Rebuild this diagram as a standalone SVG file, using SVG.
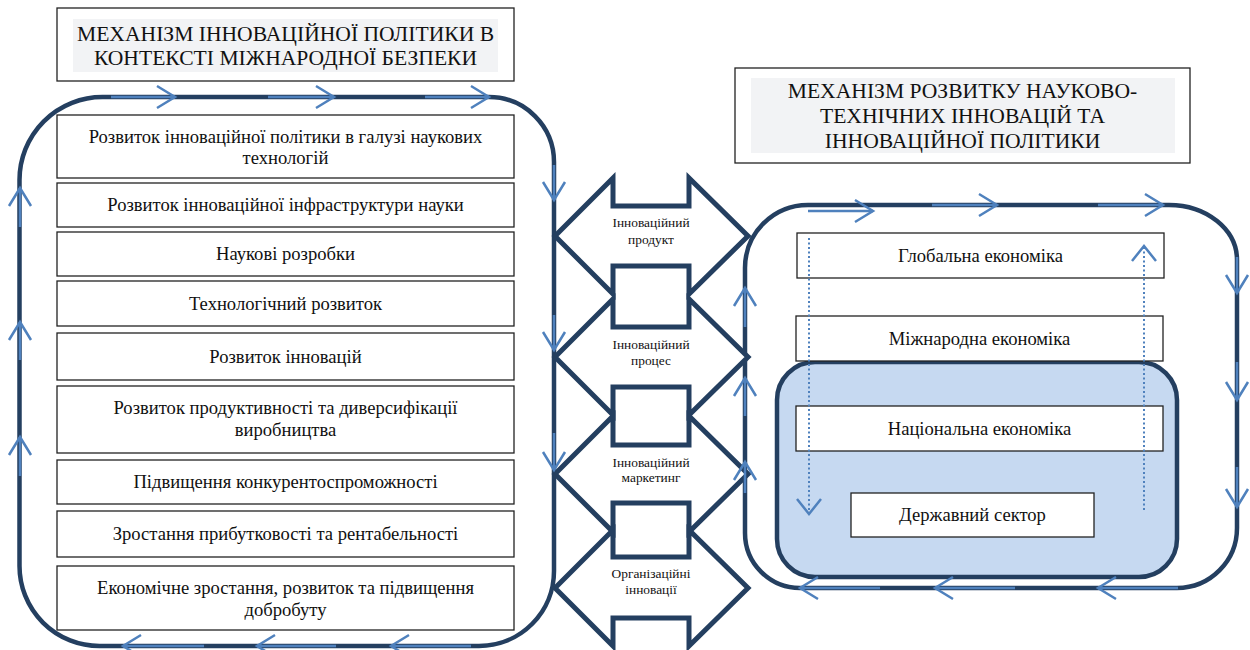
<svg xmlns="http://www.w3.org/2000/svg" width="1250" height="650" viewBox="0 0 1250 650">
<style>
text{font-family:"Liberation Serif","Times New Roman",serif;fill:#111;text-anchor:middle}
.t{font-size:21.6px}
.b{font-size:18.6px}
.s{font-size:13.4px}
.box{fill:#fff;stroke:#222;stroke-width:1.3}
.tbg{fill:#F2F3F5}
.frame{fill:none;stroke:#243F60;stroke-width:4.5}
.inner{fill:#C6D9F1;stroke:#243F60;stroke-width:4.5}
.dbl{fill:#fff;stroke:#243F60;stroke-width:5;stroke-linejoin:miter}
.la{stroke:#4F81BD;stroke-width:2.5;fill:none;marker-end:url(#ah)}
.dot{stroke:#4F81BD;stroke-width:2;fill:none;stroke-dasharray:2 2.5;marker-end:url(#ah2)}
</style>
<defs>
<marker id="ah" markerUnits="userSpaceOnUse" markerWidth="24" markerHeight="24" refX="19" refY="11" orient="auto" overflow="visible">
<path d="M1 0 L19 11 L1 22" fill="none" stroke="#4F81BD" stroke-width="2.5"/>
</marker>
<marker id="ah2" markerUnits="userSpaceOnUse" markerWidth="24" markerHeight="28" refX="16" refY="12" orient="auto" overflow="visible">
<path d="M1 0 L16 12 L1 24" fill="none" stroke="#4F81BD" stroke-width="2.5"/>
</marker>
</defs>

<g id="title-left">
<rect x="57" y="8" width="457" height="73" fill="#fff" stroke="#222" stroke-width="1.3"/>
<rect class="tbg" x="73" y="19" width="425" height="53"/>
<text class="t" x="285.5" y="40.5">МЕХАНІЗМ ІННОВАЦІЙНОЇ ПОЛІТИКИ В</text>
<text class="t" x="285.5" y="65">КОНТЕКСТІ МІЖНАРОДНОЇ БЕЗПЕКИ</text>
</g>

<g id="title-right">
<rect x="735" y="68" width="455" height="95" fill="#fff" stroke="#222" stroke-width="1.3"/>
<rect class="tbg" x="751" y="78" width="424" height="75"/>
<text class="t" x="962.5" y="97.5">МЕХАНІЗМ РОЗВИТКУ НАУКОВО-</text>
<text class="t" x="962.5" y="122.5">ТЕХНІЧНИХ ІННОВАЦІЙ ТА</text>
<text class="t" x="962.5" y="147.5">ІННОВАЦІЙНОЇ ПОЛІТИКИ</text>
</g>

<g id="frame-left">
<path class="frame" d="M102.5 97 H489 A65 65 0 0 1 554 162 V571 A75 75 0 0 1 479 646 H99.5 A80 80 0 0 1 19.5 566 V180 A83 83 0 0 1 102.5 97 Z"/>
</g>

<g id="frame-right">
<path class="frame" d="M808 205 H1169 A68 55 0 0 1 1237 260 V528 A60 60 0 0 1 1177 588 H800 A55 55 0 0 1 745 533 V268 A63 63 0 0 1 808 205 Z"/>
</g>

<g id="inner-area">
<rect class="inner" x="777" y="362" width="400" height="215" rx="38" ry="38"/>
</g>

<g id="n1"><rect class="box" x="57" y="115" width="457" height="63"/>
<text class="b" x="285.5" y="143">Розвиток інноваційної політики в галузі наукових</text>
<text class="b" x="285.5" y="164">технологій</text></g>
<g id="n2"><rect class="box" x="57" y="183" width="457" height="44"/>
<text class="b" x="285.5" y="211">Розвиток інноваційної інфраструктури науки</text></g>
<g id="n3"><rect class="box" x="57" y="232" width="457" height="44"/>
<text class="b" x="285.5" y="260">Наукові розробки</text></g>
<g id="n4"><rect class="box" x="57" y="281" width="457" height="45"/>
<text class="b" x="285.5" y="309.5">Технологічний розвиток</text></g>
<g id="n5"><rect class="box" x="57" y="333" width="457" height="47"/>
<text class="b" x="285.5" y="362.5">Розвиток інновацій</text></g>
<g id="n6"><rect class="box" x="57" y="386" width="457" height="67"/>
<text class="b" x="285.5" y="414">Розвиток продуктивності та диверсифікації</text>
<text class="b" x="285.5" y="436">виробництва</text></g>
<g id="n7"><rect class="box" x="57" y="460" width="457" height="44"/>
<text class="b" x="285.5" y="488">Підвищення конкурентоспроможності</text></g>
<g id="n8"><rect class="box" x="57" y="511" width="457" height="46"/>
<text class="b" x="285.5" y="540">Зростання прибутковості та рентабельності</text></g>
<g id="n9"><rect class="box" x="57" y="566" width="457" height="64"/>
<text class="b" x="285.5" y="594">Економічне зростання, розвиток та підвищення</text>
<text class="b" x="285.5" y="615.5">добробуту</text></g>

<g id="r1"><rect class="box" x="797" y="233" width="367" height="45"/>
<text class="b" x="980.5" y="261.5">Глобальна економіка</text></g>
<g id="r2"><rect class="box" x="796" y="316" width="367" height="45"/>
<text class="b" x="979.5" y="344.5">Міжнародна економіка</text></g>
<g id="r3"><rect class="box" x="796" y="406" width="367" height="45"/>
<text class="b" x="979.5" y="434.5">Національна економіка</text></g>
<g id="r4"><rect class="box" x="851" y="493" width="243" height="44"/>
<text class="b" x="972.5" y="521">Державний сектор</text></g>

<g id="m1"><polygon class="dbl" points="555,236 613,178 613,206 689,206 689,178 748,236 689,294 689,266 613,266 613,294"/>
<text class="s" x="651" y="226.5">Інноваційний</text><text class="s" x="651" y="244">продукт</text></g>
<g id="m2"><polygon class="dbl" points="555,357 613,299 613,327 689,327 689,299 748,357 689,415 689,387 613,387 613,415"/>
<text class="s" x="651" y="348.5">Інноваційний</text><text class="s" x="651" y="364.5">процес</text></g>
<g id="m3"><polygon class="dbl" points="555,474 613,416 613,445 689,445 689,416 748,474 689,532 689,503 613,503 613,532"/>
<text class="s" x="651" y="466.5">Інноваційний</text><text class="s" x="651" y="481.5">маркетинг</text></g>
<g id="m4"><polygon class="dbl" points="555,588 613,530 613,557 689,557 689,530 748,588 689,646 689,618 613,618 613,646"/>
<text class="s" x="651" y="577.5">Організаційні</text><text class="s" x="651" y="593.5">інновації</text></g>

<g id="connectors">
<line class="la" x1="111" y1="97" x2="175" y2="97"/>
<line class="la" x1="268" y1="97" x2="334" y2="97"/>
<line class="la" x1="425" y1="97" x2="489" y2="97"/>
<line class="la" x1="554" y1="165" x2="554" y2="200"/>
<line class="la" x1="554" y1="315" x2="554" y2="350"/>
<line class="la" x1="554" y1="433" x2="554" y2="470"/>
<line class="la" x1="204" y1="646" x2="123" y2="646"/>
<line class="la" x1="336" y1="646" x2="257" y2="646"/>
<line class="la" x1="471" y1="646" x2="391" y2="646"/>
<line class="la" x1="20" y1="227" x2="20" y2="188"/>
<line class="la" x1="20" y1="360" x2="20" y2="322"/>
<line class="la" x1="20" y1="476" x2="20" y2="437"/>

<line class="la" x1="808" y1="211" x2="873" y2="211"/>
<line class="la" x1="932" y1="205" x2="997" y2="205"/>
<line class="la" x1="1098" y1="205" x2="1163" y2="205"/>
<line class="la" x1="1237" y1="257" x2="1237" y2="293"/>
<line class="la" x1="1237" y1="362" x2="1237" y2="400"/>
<line class="la" x1="1237" y1="467" x2="1237" y2="507"/>
<line class="la" x1="1178" y1="588" x2="1098" y2="588"/>
<line class="la" x1="1015" y1="588" x2="935" y2="588"/>
<line class="la" x1="880" y1="588" x2="800" y2="588"/>
<line class="la" x1="745" y1="327" x2="745" y2="288"/>
<line class="la" x1="745" y1="416" x2="745" y2="378"/>
<line class="la" x1="745" y1="493" x2="745" y2="462"/>

<line class="dot" x1="809" y1="238" x2="809" y2="514"/>
<line class="dot" x1="1144" y1="510" x2="1144" y2="246"/>
</g>
</svg>
